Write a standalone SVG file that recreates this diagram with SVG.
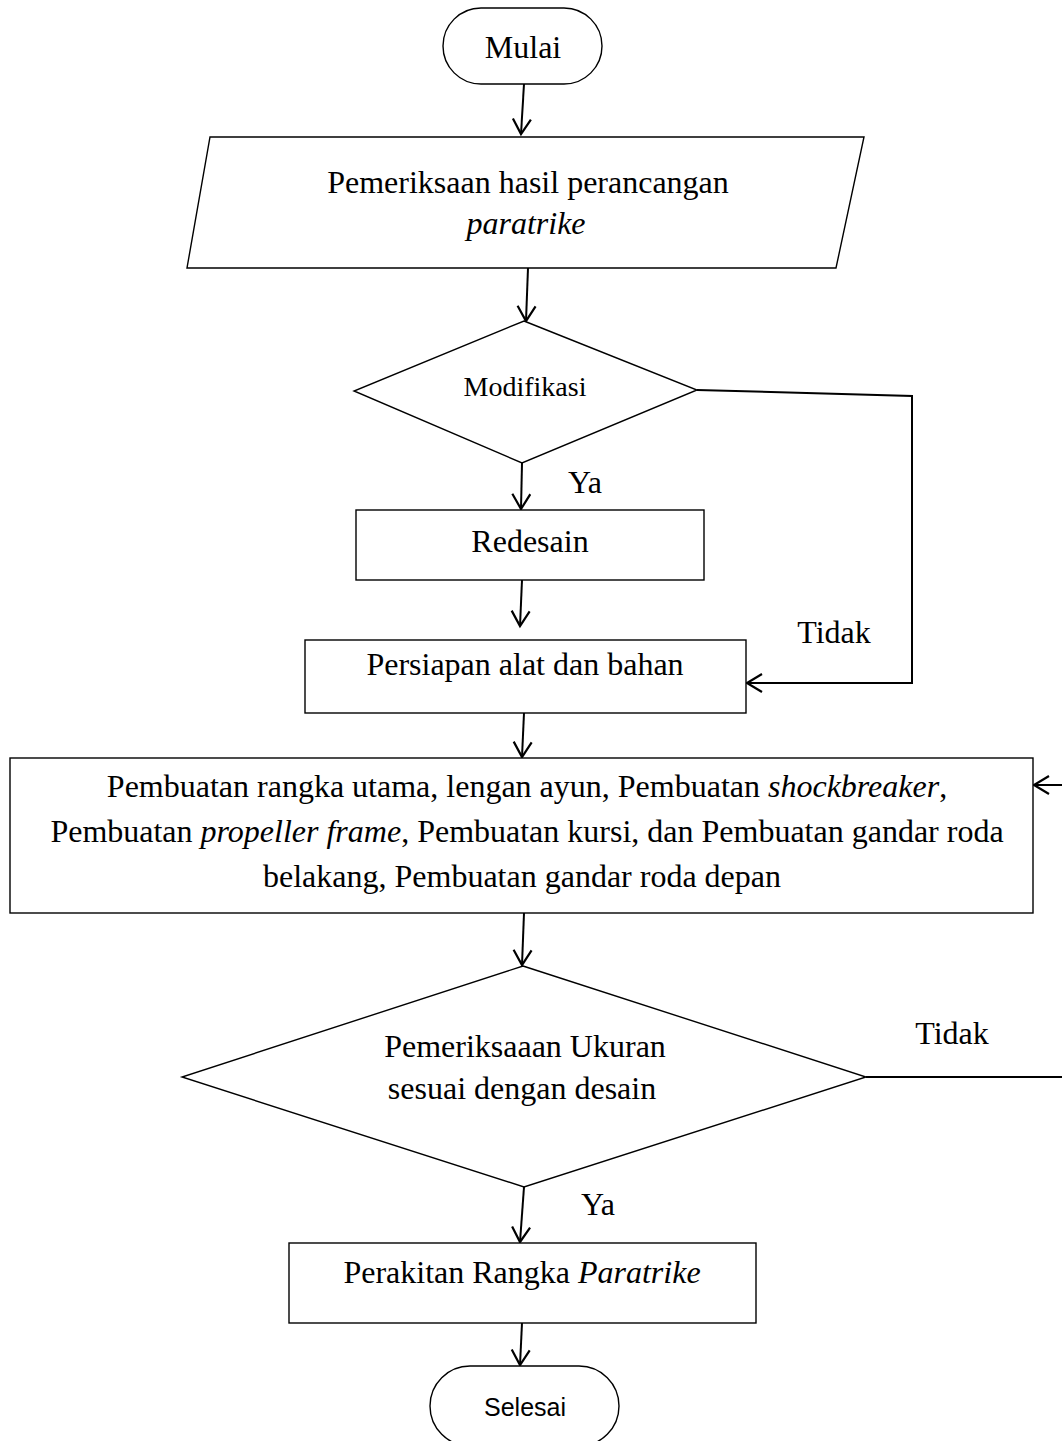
<svg xmlns="http://www.w3.org/2000/svg" width="1062" height="1441" viewBox="0 0 1062 1441">
<style>
.s{fill:#fff;stroke:#000;stroke-width:1.4}
.c{fill:none;stroke:#000;stroke-width:2}
.t{font-family:"Liberation Serif","Times New Roman",serif;font-size:32px;fill:#000;text-anchor:middle}
.i{font-style:italic}
.sa{font-family:"Liberation Sans",Arial,sans-serif;font-size:25px;fill:#000;text-anchor:middle}
</style>
<defs>
<marker id="ah" markerUnits="userSpaceOnUse" markerWidth="22" markerHeight="24" refX="16" refY="10" orient="auto">
<path d="M1,1 L16,10 L1,19" fill="none" stroke="#000" stroke-width="2.2"/>
</marker>
</defs>
<rect width="1062" height="1441" fill="#fff"/>
<g id="connectors">
<line class="c" x1="524" y1="84" x2="521" y2="134" marker-end="url(#ah)"/>
<line class="c" x1="528" y1="268" x2="526" y2="321" marker-end="url(#ah)"/>
<line class="c" x1="522" y1="463" x2="521" y2="509" marker-end="url(#ah)"/>
<polyline class="c" points="697,390 912,396 912,684"/>
<line class="c" x1="912" y1="683" x2="747" y2="683" marker-end="url(#ah)"/>
<line class="c" x1="522" y1="580" x2="520" y2="626" marker-end="url(#ah)"/>
<line class="c" x1="524" y1="713" x2="522" y2="757" marker-end="url(#ah)"/>
<line class="c" x1="1062" y1="785" x2="1034" y2="785" marker-end="url(#ah)"/>
<line class="c" x1="524" y1="913" x2="522" y2="965" marker-end="url(#ah)"/>
<line class="c" x1="866" y1="1077" x2="1062" y2="1077"/>
<line class="c" x1="524" y1="1187" x2="520" y2="1242" marker-end="url(#ah)"/>
<line class="c" x1="522" y1="1323" x2="520" y2="1365" marker-end="url(#ah)"/>
<text class="t" x="585" y="493">Ya</text>
<text class="t" x="834" y="643">Tidak</text>
<text class="t" x="952" y="1044">Tidak</text>
<text class="t" x="598" y="1215">Ya</text>
</g>
<g id="mulai">
<rect class="s" x="443" y="8" width="159" height="76" rx="38" ry="38"/>
<text class="t" x="523" y="58">Mulai</text>
</g>
<g id="pemeriksaan">
<polygon class="s" points="210,137 864,137 836,268 187,268"/>
<text class="t" x="528" y="193">Pemeriksaan hasil perancangan</text>
<text class="t i" x="526" y="234">paratrike</text>
</g>
<g id="modifikasi">
<polygon class="s" points="524,321 697,390 522,463 354,391"/>
<text class="t" x="525" y="396" style="font-size:28px">Modifikasi</text>
</g>
<g id="redesain">
<rect class="s" x="356" y="510" width="348" height="70"/>
<text class="t" x="530" y="552">Redesain</text>
</g>
<g id="persiapan">
<rect class="s" x="305" y="640" width="441" height="73"/>
<text class="t" x="525" y="675">Persiapan alat dan bahan</text>
</g>
<g id="pembuatan">
<rect class="s" x="10" y="758" width="1023" height="155"/>
<text class="t" x="527" y="797">Pembuatan rangka utama, lengan ayun, Pembuatan <tspan class="i">shockbreaker</tspan>,</text>
<text class="t" x="527" y="842">Pembuatan <tspan class="i">propeller frame</tspan>, Pembuatan kursi, dan Pembuatan gandar roda</text>
<text class="t" x="522" y="887">belakang, Pembuatan gandar roda depan</text>
</g>
<g id="ukuran">
<polygon class="s" points="523,966 866,1077 524,1187 182,1077"/>
<text class="t" x="525" y="1057">Pemeriksaaan Ukuran</text>
<text class="t" x="522" y="1099">sesuai dengan desain</text>
</g>
<g id="perakitan">
<rect class="s" x="289" y="1243" width="467" height="80"/>
<text class="t" x="522" y="1283">Perakitan Rangka <tspan class="i">Paratrike</tspan></text>
</g>
<g id="selesai">
<rect class="s" x="430" y="1366" width="189" height="80" rx="40" ry="40"/>
<text class="sa" x="525" y="1416">Selesai</text>
</g>
</svg>
